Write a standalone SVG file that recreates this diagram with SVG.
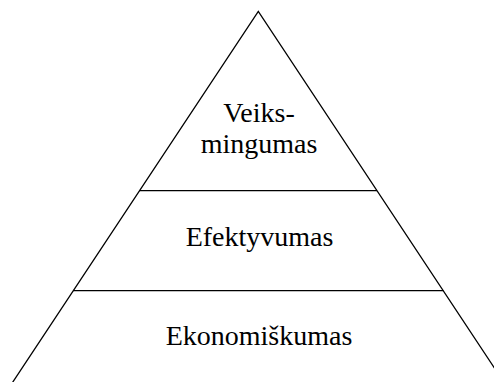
<svg xmlns="http://www.w3.org/2000/svg" width="494" height="382" viewBox="0 0 494 382">
<style>
.ln{fill:none;stroke:#000;stroke-width:1.3;stroke-linejoin:miter}
.t{font-family:'Liberation Serif',serif;font-size:28px;fill:#000;text-anchor:middle}
</style>
<rect width="494" height="382" fill="#fff"/>
<g id="connectors">
<polyline class="ln" points="12.5,382.5 258.3,11.5 504,382.5"/>
<line class="ln" x1="139.6" y1="190.7" x2="377" y2="190.7"/>
<line class="ln" x1="73.2" y1="290.7" x2="443.4" y2="290.7"/>
</g>
<g id="veiksmingumas">
<text class="t" font-family="Liberation Serif, serif" x="259" y="122">Veiks-</text>
<text class="t" font-family="Liberation Serif, serif" x="259" y="153">mingumas</text>
</g>
<g id="efektyvumas">
<text class="t" font-family="Liberation Serif, serif" x="259.5" y="246">Efektyvumas</text>
</g>
<g id="ekonomiskumas">
<text class="t" font-family="Liberation Serif, serif" x="259" y="345">Ekonomiškumas</text>
</g>
</svg>
